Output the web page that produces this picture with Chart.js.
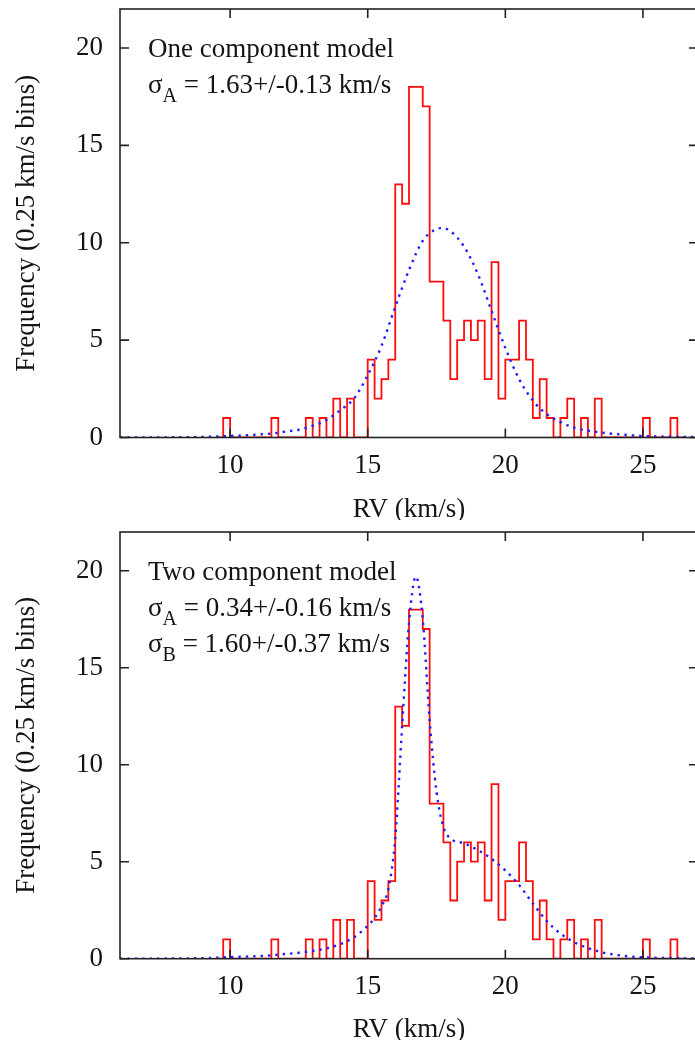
<!DOCTYPE html>
<html>
<head>
<meta charset="utf-8">
<script src="https://cdn.jsdelivr.net/npm/chart.js@4.4.1/dist/chart.umd.min.js"></script>
<style>
  html, body { margin: 0; padding: 0; background: #fff; overflow: hidden; }
  canvas { display: block; }
</style>
</head>
<body>
<canvas id="oneComp" width="698" height="520"></canvas>
<canvas id="twoComp" width="698" height="520"></canvas>
<script>
// RV histogram: 0.25 km/s bins, first bin starts at 9.5 km/s
const binStart = 9.5;
const binWidth = 0.25;
const counts = [
  0, 1, 0, 0, 0, 0, 0, 0,
  1, 0, 0, 0, 0, 1, 0, 1,
  0, 2, 0, 2, 0, 0, 4, 2,
  3, 4, 13, 12, 18, 18, 17, 8,
  8, 6, 3, 5, 6, 5, 6, 3,
  9, 2, 4, 4, 6, 4, 1, 3,
  1, 0, 1, 2, 0, 1, 0, 2,
  0, 0, 0, 0, 0, 0, 1, 0,
  0, 0, 1, 0
];

// single gaussian model curve
const oneCompX = [6, 8, 9, 10, 11, 11.5, 12, 12.5, 13, 13.5, 14, 14.5, 15, 15.5, 16, 16.5, 17, 17.5, 17.75,
                  18, 18.5, 19, 19.5, 20, 20.5, 21, 21.5, 22, 22.5, 23, 23.5, 24, 24.5, 25, 26, 27];
const oneCompY = [0, 0.01, 0.03, 0.08, 0.15, 0.2, 0.3, 0.4, 0.6, 0.9, 1.4, 2.0, 3.2, 4.7, 6.7, 8.6, 10.1, 10.7, 10.75,
                  10.6, 9.8, 8.4, 6.5, 4.6, 3.0, 1.9, 1.2, 0.8, 0.5, 0.35, 0.25, 0.18, 0.12, 0.08, 0.04, 0.02];

// narrow + broad gaussian model curve
const twoCompX = [6, 8, 9, 10, 11, 11.5, 12, 12.5, 13, 13.5, 14, 14.5, 15, 15.25, 15.5, 15.75, 16, 16.25, 16.5,
                  16.75, 17, 17.25, 17.5, 17.75, 18, 18.5, 19, 19.5, 20, 20.5, 21, 21.5, 22, 22.5, 23, 23.5,
                  24, 24.5, 25, 26, 27];
const twoCompY = [0, 0.01, 0.03, 0.08, 0.13, 0.17, 0.24, 0.31, 0.4, 0.53, 0.75, 1.1, 1.7, 2.1, 2.7, 3.6, 6.2, 12.0, 17.3,
                  19.7, 17.5, 12.3, 8.6, 6.8, 6.2, 5.95, 5.6, 5.15, 4.55, 3.8, 2.85, 1.95, 1.3, 0.85, 0.55, 0.33,
                  0.2, 0.12, 0.07, 0.03, 0.01];

const xTicks = [10, 15, 20, 25];
const yTicks = [0, 5, 10, 15, 20];

const serif = "'Liberation Serif', 'DejaVu Serif', serif";
const ink = '#141414';

// histogram outline: each bin edge holds its count until the next edge
function histPoints() {
  const pts = counts.map((c, i) => ({ x: binStart + i * binWidth, y: c }));
  pts.push({ x: binStart + counts.length * binWidth, y: 0 });
  return pts;
}

function curvePoints(xs, ys) {
  return xs.map((x, i) => ({ x: x, y: ys[i] }));
}

// box with inward ticks on all four sides
const framePlugin = {
  id: 'frame',
  afterDatasetsDraw(chart) {
    const { ctx, chartArea: a, scales: { x, y } } = chart;
    ctx.save();
    ctx.strokeStyle = '#222';
    ctx.lineWidth = 1.6;
    ctx.strokeRect(a.left, a.top, a.right - a.left, a.bottom - a.top);
    ctx.beginPath();
    x.ticks.forEach(t => {
      const px = x.getPixelForValue(t.value);
      ctx.moveTo(px, a.bottom); ctx.lineTo(px, a.bottom - 9);
      ctx.moveTo(px, a.top); ctx.lineTo(px, a.top + 9);
    });
    y.ticks.forEach(t => {
      const py = y.getPixelForValue(t.value);
      ctx.moveTo(a.left, py); ctx.lineTo(a.left + 9, py);
      ctx.moveTo(a.right, py); ctx.lineTo(a.right - 9, py);
    });
    ctx.stroke();
    ctx.restore();
  }
};

// text block in the upper left corner; segments flagged true are subscripts
function notesPlugin(lines) {
  return {
    id: 'notes',
    afterDraw(chart) {
      const { ctx, chartArea: a } = chart;
      ctx.save();
      ctx.fillStyle = ink;
      ctx.textBaseline = 'alphabetic';
      lines.forEach((line, i) => {
        let x = a.left + 28;
        const y = a.top + 48 + i * 36;
        line.forEach(([txt, sub]) => {
          ctx.font = (sub ? '20px ' : '27px ') + serif;
          ctx.fillText(txt, x, sub ? y + 9 : y);
          x += ctx.measureText(txt).width;
        });
      });
      ctx.restore();
    }
  };
}

function makePanel(id, curveX, curveY, notes, padTop, axisHeight) {
  const ctx = document.getElementById(id).getContext('2d');
  return new Chart(ctx, {
    type: 'line',
    data: {
      datasets: [
        {
          label: 'model',
          data: curvePoints(curveX, curveY),
          borderColor: 'rgb(30, 30, 255)',
          borderWidth: 2.4,
          borderDash: [2.4, 5],
          pointRadius: 0,
          cubicInterpolationMode: 'monotone',
          order: 0
        },
        {
          label: 'RV',
          data: histPoints(),
          borderColor: '#ff0d0d',
          borderWidth: 1.8,
          stepped: 'before',
          pointRadius: 0,
          order: 1
        }
      ]
    },
    options: {
      responsive: false,
      animation: false,
      layout: { padding: { top: padTop, left: 0, right: 0, bottom: 0 } },
      plugins: { legend: { display: false }, tooltip: { enabled: false } },
      scales: {
        x: {
          type: 'linear',
          min: 6,
          max: 27,
          afterBuildTicks: s => { s.ticks = xTicks.map(v => ({ value: v })); },
          afterFit: s => { s.height = axisHeight; s.paddingLeft = 0; s.paddingRight = 0; },
          grid: { display: false, drawTicks: false },
          border: { display: false },
          ticks: { color: ink, padding: 12, font: { family: serif, size: 27 } },
          title: { display: true, text: 'RV (km/s)', color: ink, padding: { top: 10, bottom: -6 }, font: { family: serif, size: 27 } }
        },
        y: {
          type: 'linear',
          min: 0,
          max: 22,
          afterBuildTicks: s => { s.ticks = yTicks.map(v => ({ value: v })); },
          afterFit: s => { s.width = 120; s.paddingTop = 0; s.paddingBottom = 0; },
          grid: { display: false, drawTicks: false },
          border: { display: false },
          ticks: { color: ink, padding: 17, font: { family: serif, size: 27 } },
          title: { display: true, text: 'Frequency (0.25 km/s bins)', color: ink, padding: { top: 11, bottom: 0 }, font: { family: serif, size: 27 } }
        }
      }
    },
    plugins: [framePlugin, notesPlugin(notes)]
  });
}

makePanel('oneComp', oneCompX, oneCompY, [
  [['One component model']],
  [['σ'], ['A', true], [' = 1.63+/-0.13 km/s']]
], 9, 82.5);

makePanel('twoComp', twoCompX, twoCompY, [
  [['Two component model']],
  [['σ'], ['A', true], [' = 0.34+/-0.16 km/s']],
  [['σ'], ['B', true], [' = 1.60+/-0.37 km/s']]
], 12, 81.3);
</script>
</body>
</html>
